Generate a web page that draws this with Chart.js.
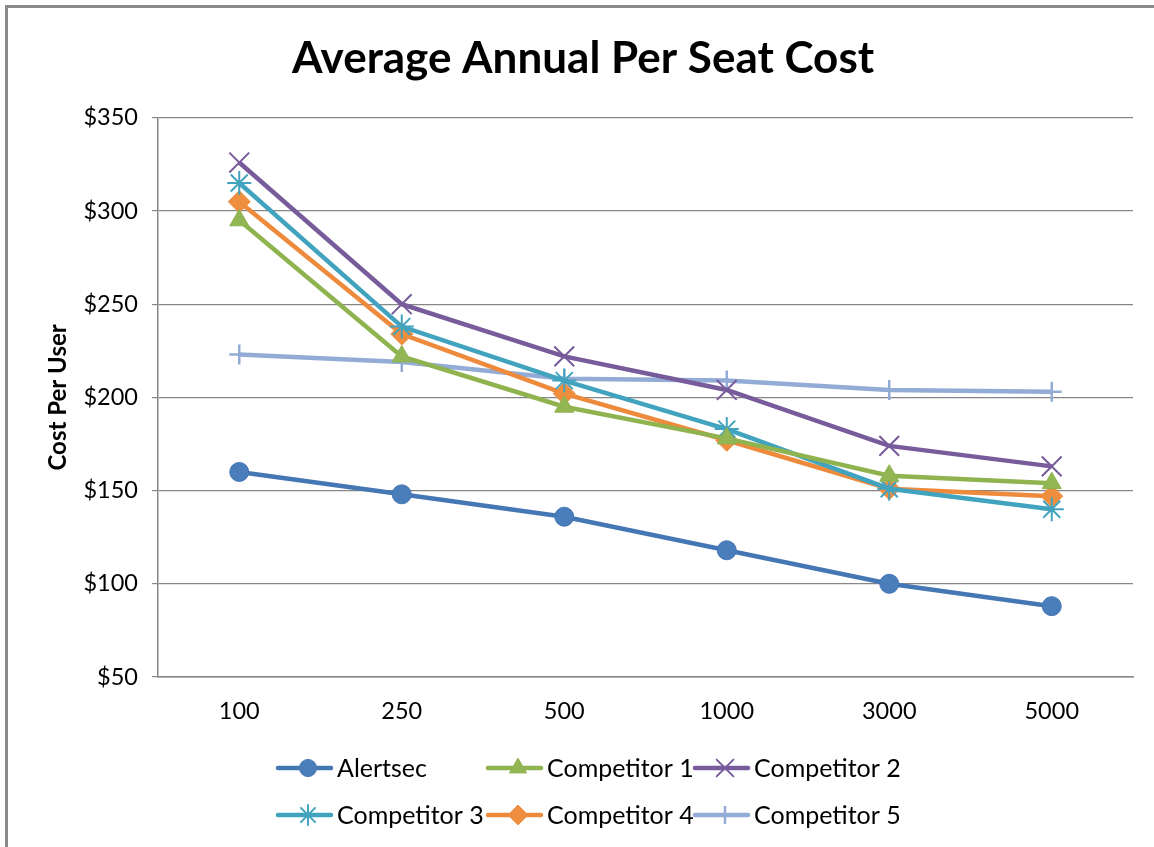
<!DOCTYPE html>
<html>
<head>
<meta charset="utf-8">
<script src="https://cdn.jsdelivr.net/npm/chart.js@4/dist/chart.umd.min.js"></script>
<style>
  html, body { margin: 0; padding: 0; background: #fff; }
  #wrap { width: 1154px; height: 847px; position: relative; }
</style>
</head>
<body>
<div id="wrap"><canvas id="chart" width="1154" height="847"></canvas></div>
<script>
/* ── data ────────────────────────────────────────────────── */

const SEATS        = ["100", "250", "500", "1000", "3000", "5000"];
const ALERTSEC     = [160, 148, 136, 118, 100, 88];
const COMPETITOR_1 = [295, 222, 195, 178, 158, 154];
const COMPETITOR_2 = [326, 250, 222, 204, 174, 163];
const COMPETITOR_3 = [315, 238, 209, 183, 151, 140];
const COMPETITOR_4 = [305, 234, 202, 177, 151, 147];
const COMPETITOR_5 = [223, 219, 210, 209, 204, 203];
const Y_TICKS      = [50, 100, 150, 200, 250, 300, 350];

/* ── styles ──────────────────────────────────────────────── */

const FONT   = "Lato, 'Open Sans', sans-serif";
const GRID   = "#868686";

const SERIES = [
  { label: "Alertsec",     data: ALERTSEC,     color: "#4677B5", fill: "#4A7EBB", style: "circle",   r: 9.5, bw: 1 },
  { label: "Competitor 1", data: COMPETITOR_1, color: "#8FB34E", fill: "#93B655", style: "triangle", r: 11,  bw: 1 },
  { label: "Competitor 2", data: COMPETITOR_2, color: "#775B9B", fill: "#775B9B", style: "crossRot", r: 14,  bw: 2 },
  { label: "Competitor 3", data: COMPETITOR_3, color: "#42A3BE", fill: "#42A3BE", style: "star",     r: 12,  bw: 2 },
  { label: "Competitor 4", data: COMPETITOR_4, color: "#EE8A3C", fill: "#F08E40", style: "rectRot",  r: 11,  bw: 1 },
  { label: "Competitor 5", data: COMPETITOR_5, color: "#92ACD6", fill: "#92ACD6", style: "cross",    r: 10,  bw: 2.5 },
];

/* ── plugins ─────────────────────────────────────────────── */

const frame = {
  id: "frame",
  beforeDraw(chart) {
    const { ctx, width, height } = chart;
    ctx.save();
    ctx.fillStyle = "#fff";
    ctx.fillRect(0, 0, width, height);
    ctx.strokeStyle = "#8a8a8a";
    ctx.lineWidth = 3;
    ctx.beginPath();
    ctx.moveTo(6.5, height);
    ctx.lineTo(6.5, 6.5);
    ctx.lineTo(width, 6.5);
    ctx.stroke();
    ctx.restore();
  },
};

// Excel-style legend: a short line with the marker on it, then the name
const LEGEND_COLS = [278, 488, 695];
const LEGEND_ROWS = [768, 815];

const excelLegend = {
  id: "excelLegend",
  afterDraw(chart) {
    const { ctx } = chart;
    ctx.save();
    SERIES.forEach((s, i) => {
      const x = LEGEND_COLS[i % 3];
      const y = LEGEND_ROWS[Math.floor(i / 3)];
      ctx.strokeStyle = s.color;
      ctx.lineWidth = 4.5;
      ctx.lineCap = "round";
      ctx.beginPath();
      ctx.moveTo(x, y);
      ctx.lineTo(x + 53, y);
      ctx.stroke();
      ctx.lineCap = "butt";
      ctx.fillStyle = s.fill;
      ctx.strokeStyle = s.color;
      ctx.lineWidth = s.bw;
      Chart.helpers.drawPoint(ctx, {
        pointStyle: s.style,
        radius: s.r * 0.9,
        rotation: 0,
        borderWidth: s.bw,
      }, x + 30, y);
      ctx.fillStyle = "#000";
      ctx.font = `25px ${FONT}`;
      ctx.textBaseline = "middle";
      ctx.fillText(s.label, x + 59, y + 1);
    });
    ctx.restore();
  },
};

/* ── chart ───────────────────────────────────────────────── */

new Chart(document.getElementById("chart"), {
  type: "line",
  data: {
    labels: SEATS,
    datasets: SERIES.map(s => ({
      label: s.label,
      data: s.data,
      borderColor: s.color,
      backgroundColor: s.fill,
      borderWidth: 4.5,
      pointStyle: s.style,
      pointRadius: s.r,
      pointBorderColor: s.color,
      pointBackgroundColor: s.fill,
      pointBorderWidth: s.bw,
      tension: 0,
    })),
  },
  options: {
    responsive: false,
    animation: false,
    layout: { padding: { top: 0, left: 33, right: 21, bottom: 110 } },
    plugins: {
      legend: { display: false },
      tooltip: { enabled: false },
      title: {
        display: true,
        text: "Average Annual Per Seat Cost",
        color: "#000",
        font: { family: FONT, size: 44, weight: "bold" },
        padding: { top: 32, bottom: 33 },
      },
    },
    scales: {
      x: {
        offset: true,
        grid: { display: false, drawTicks: false },
        border: { color: GRID, width: 1.5 },
        ticks: { color: "#000", font: { family: FONT, size: 23.5 }, padding: 20 },
        afterFit(s) { s.height = 60; },
      },
      y: {
        min: 50,
        max: 350,
        afterBuildTicks(s) { s.ticks = Y_TICKS.map(v => ({ value: v })); },
        grid: { color: GRID, lineWidth: 1.2, tickLength: 6 },
        border: { color: GRID, width: 1.5 },
        ticks: {
          color: "#000",
          font: { family: FONT, size: 23.5 },
          padding: 14,
          callback: v => "$" + v,
        },
        title: {
          display: true,
          text: "Cost Per User",
          color: "#000",
          font: { family: FONT, size: 24, weight: "bold" },
          padding: { top: 11, bottom: 0 },
        },
        afterFit(s) { s.width = 125; },
      },
    },
  },
  plugins: [frame, excelLegend],
});
</script>
</body>
</html>
